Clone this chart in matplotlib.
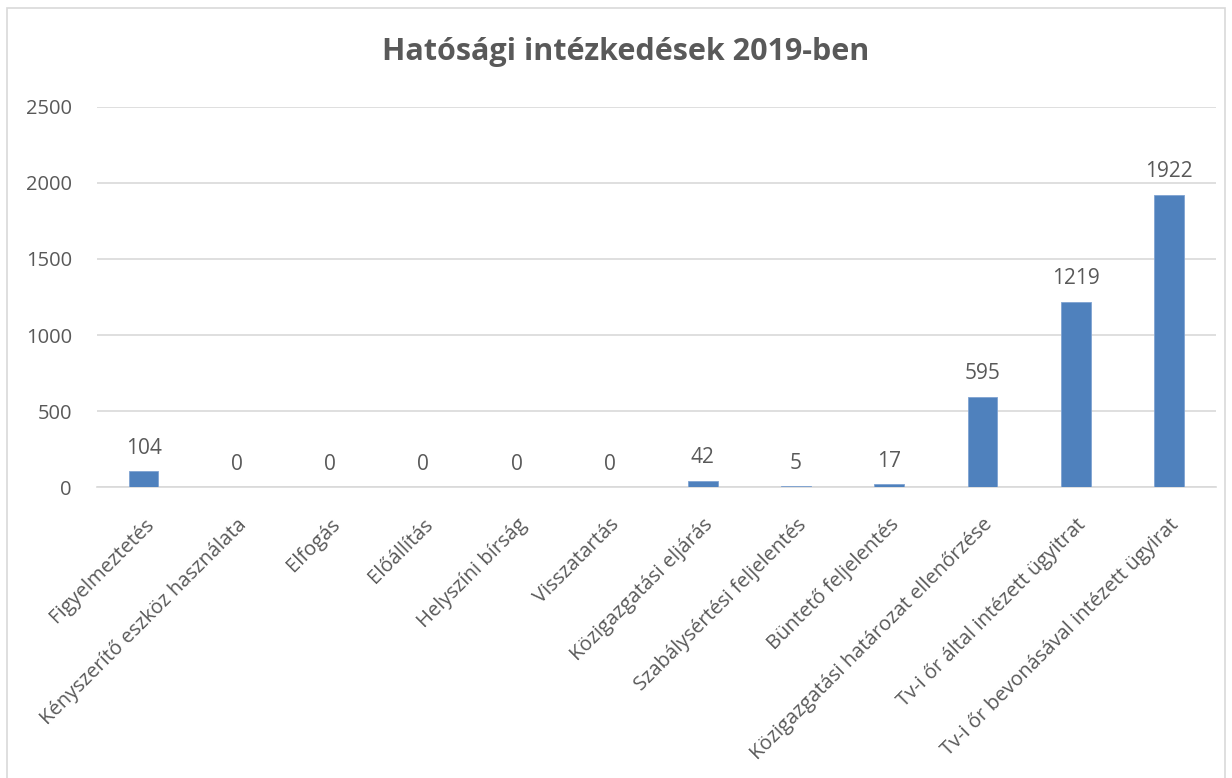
import matplotlib.pyplot as plt
from matplotlib.patches import Rectangle

# Data
categories = ['Figyelmeztetés', 'Kényszerítő eszköz használata', 'Elfogás',
              'Előállítás', 'Helyszíni bírság', 'Visszatartás',
              'Közigazgatási eljárás', 'Szabálysértési feljelentés',
              'Büntető feljelentés', 'Közigazgatási határozat ellenőrzése',
              'Tv-i őr által intézett ügyitrat',
              'Tv-i őr bevonásával intézett ügyirat']
values = [104, 0, 0, 0, 0, 0, 42, 5, 17, 595, 1219, 1922]
y_ticks = [0, 500, 1000, 1500, 2000, 2500]

text_color = '#595959'
bar_color = '#4F81BD'
plt.rcParams['font.family'] = ['Open Sans', 'DejaVu Sans']

fig = plt.figure(figsize=(12.32, 7.78), dpi=100)
ax = fig.add_axes([0.0787, 0.374, 0.908, 0.4885])

# Light border around the chart, like an Excel chart area
fig.patches.append(Rectangle((0.006, -0.01), 0.988, 1.0, transform=fig.transFigure,
                             fill=False, edgecolor='#D9D9D9', linewidth=1.2))

x = range(len(categories))
bars = ax.bar(x, values, width=0.32, color=bar_color, edgecolor='#7FA3D2', linewidth=0.6, zorder=3)

for xi, v in zip(x, values):
    ax.annotate(str(v), (xi, v), xytext=(0, 9), textcoords='offset points',
                ha='center', va='bottom', fontsize=15, color=text_color)

ax.set_xlim(-0.5, len(categories) - 0.5)
ax.set_ylim(0, 2500)
ax.set_yticks(y_ticks)
ax.yaxis.grid(True, color='#D9D9D9', linewidth=1.2, zorder=0)
ax.tick_params(axis='both', length=0, labelsize=14.5, labelcolor=text_color)
ax.tick_params(axis='y', pad=18)
ax.set_xticks(list(x))
ax.set_xticklabels(categories, rotation=45, ha='right', rotation_mode='anchor')
ax.tick_params(axis='x', pad=20)
for s in ['top', 'right', 'left']:
    ax.spines[s].set_visible(False)
ax.spines['bottom'].set_color('#D9D9D9')
ax.spines['bottom'].set_linewidth(1.2)

fig.text(0.508, 0.933, 'Hatósági intézkedések 2019-ben', ha='center', va='center',
         fontsize=22, fontweight='bold', color=text_color)

fig.savefig('out.png', dpi=100)
